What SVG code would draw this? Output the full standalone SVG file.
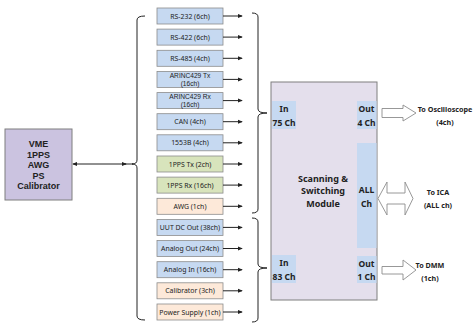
<svg xmlns="http://www.w3.org/2000/svg" width="474" height="326" viewBox="0 0 474 326">
<style>
.box{stroke:#8c8c8c;stroke-width:0.8}
.blue{fill:#c6d9f1}.green{fill:#d8e4bc}.peach{fill:#fde9d9}
.t{font-family:"Noto Sans","DejaVu Sans",sans-serif;font-size:6.9px;fill:#222;text-anchor:middle;dominant-baseline:central}
.t2{font-family:"Liberation Sans",Arial,sans-serif;font-size:6.6px;fill:#222;text-anchor:middle;dominant-baseline:central}
.b{font-family:"Noto Sans","DejaVu Sans",sans-serif;font-weight:bold;fill:#222;text-anchor:middle;dominant-baseline:central}
.lb{font-family:"Liberation Sans",Arial,sans-serif;font-weight:bold;font-size:9px;fill:#222;text-anchor:middle;dominant-baseline:central}
.ln{stroke:#222;stroke-width:1;fill:none}
.blk{fill:#fff;stroke:#8c8c8c;stroke-width:0.9}
.inner{fill:#c6d9f1}
</style>
<defs>
<marker id="ah" viewBox="0 0 6 6" refX="5" refY="3" markerWidth="5" markerHeight="5" orient="auto-start-reverse" markerUnits="userSpaceOnUse">
<path d="M0,0.5 L6,3 L0,5.5 z" fill="#222"/>
</marker>
</defs>
<rect width="474" height="326" fill="#fff"/>

<g id="source">
<rect x="5" y="129" width="67" height="71" fill="#cbc3e0" stroke="#7f7f7f" stroke-width="1"/>
<text class="lb" x="38.5" y="144">VME</text>
<text class="lb" x="38.5" y="154.5">1PPS</text>
<text class="lb" x="38.5" y="165">AWG</text>
<text class="lb" x="38.5" y="175.5">PS</text>
<text class="lb" x="38.5" y="186">Calibrator</text>
</g>

<g id="n-rs232"><rect class="box blue" x="157" y="8" width="66" height="16"/><text class="t" x="190" y="16">RS-232 (6ch)</text></g>
<g id="n-rs422"><rect class="box blue" x="157" y="29.1" width="66" height="16"/><text class="t" x="190" y="37.1">RS-422 (6ch)</text></g>
<g id="n-rs485"><rect class="box blue" x="157" y="50.3" width="66" height="16"/><text class="t" x="190" y="58.3">RS-485 (4ch)</text></g>
<g id="n-arinctx"><rect class="box blue" x="157" y="71.4" width="66" height="16"/><text class="t2" x="190" y="75.6">ARINC429 Tx</text><text class="t2" x="190" y="83.3">(16ch)</text></g>
<g id="n-arincrx"><rect class="box blue" x="157" y="92.6" width="66" height="16"/><text class="t2" x="190" y="96.8">ARINC429 Rx</text><text class="t2" x="190" y="104.5">(16ch)</text></g>
<g id="n-can"><rect class="box blue" x="157" y="113.7" width="66" height="16"/><text class="t" x="190" y="121.7">CAN (4ch)</text></g>
<g id="n-1553b"><rect class="box blue" x="157" y="134.8" width="66" height="16"/><text class="t" x="190" y="142.8">1553B (4ch)</text></g>
<g id="n-1ppstx"><rect class="box green" x="157" y="156" width="66" height="16"/><text class="t" x="190" y="164">1PPS Tx (2ch)</text></g>
<g id="n-1ppsrx"><rect class="box green" x="157" y="177.1" width="66" height="16"/><text class="t" x="190" y="185.1">1PPS Rx (16ch)</text></g>
<g id="n-awg"><rect class="box peach" x="157" y="198.3" width="66" height="16"/><text class="t" x="190" y="206.3">AWG (1ch)</text></g>
<g id="n-uut"><rect class="box blue" x="157" y="219.4" width="66" height="16"/><text class="t" x="190" y="227.4">UUT DC Out (38ch)</text></g>
<g id="n-aout"><rect class="box blue" x="157" y="240.5" width="66" height="16"/><text class="t" x="190" y="248.5">Analog Out (24ch)</text></g>
<g id="n-ain"><rect class="box blue" x="157" y="261.7" width="66" height="16"/><text class="t" x="190" y="269.7">Analog In (16ch)</text></g>
<g id="n-cal"><rect class="box peach" x="157" y="282.8" width="66" height="16"/><text class="t" x="190" y="290.8">Calibrator (3ch)</text></g>
<g id="n-ps"><rect class="box peach" x="157" y="304" width="66" height="16"/><text class="t" x="190" y="312">Power Supply (1ch)</text></g>

<g id="module">
<rect x="271" y="82" width="106" height="218" fill="#e4dfec" stroke="#7f7f7f" stroke-width="1"/>
<rect class="inner" x="272" y="101" width="24" height="28"/>
<text class="b" font-size="8.5" x="284" y="108.5">In</text>
<text class="b" font-size="8.5" x="284" y="122">75 Ch</text>
<rect class="inner" x="357" y="101" width="19.5" height="28"/>
<text class="b" font-size="8.5" x="366.5" y="108.5">Out</text>
<text class="b" font-size="8.5" x="366.5" y="122">4 Ch</text>
<rect class="inner" x="357" y="143" width="19.5" height="105"/>
<text class="b" font-size="8.5" x="366.5" y="189.5">ALL</text>
<text class="b" font-size="8.5" x="366.5" y="203">Ch</text>
<rect class="inner" x="272" y="255" width="24" height="28"/>
<text class="b" font-size="8.5" x="284" y="262.5">In</text>
<text class="b" font-size="8.5" x="284" y="276">83 Ch</text>
<rect class="inner" x="357" y="256" width="19.5" height="27"/>
<text class="b" font-size="8.5" x="366.5" y="263">Out</text>
<text class="b" font-size="8.5" x="366.5" y="276.5">1 Ch</text>
<text class="b" font-size="9" x="323" y="178">Scanning &amp;</text>
<text class="b" font-size="9" x="323" y="190.5">Switching</text>
<text class="b" font-size="9" x="323" y="203">Module</text>
</g>

<g id="outputs">
<polygon class="blk" points="382,108.5 403,108.5 403,105 416,113 403,121 403,117.5 382,117.5"/>
<text class="b" font-size="7.2" x="445" y="109">To Oscilloscope</text>
<text class="b" font-size="7.2" x="445" y="122">(4ch)</text>
<polygon class="blk" points="378,198.5 387,182 387,193 405,193 405,182 413,198.5 405,215 405,204 387,204 387,215"/>
<text class="b" font-size="7.2" x="438" y="192">To ICA</text>
<text class="b" font-size="7.2" x="438" y="204.5">(ALL ch)</text>
<polygon class="blk" points="382,266.5 403,266.5 403,260 416,270 403,280 403,274 382,274"/>
<text class="b" font-size="7.2" x="430" y="265">To DMM</text>
<text class="b" font-size="7.2" x="430" y="277.5">(1ch)</text>
</g>

<g id="connectors">
<line class="ln" x1="73" y1="164" x2="126" y2="164" marker-start="url(#ah)" marker-end="url(#ah)"/>
<line class="ln" x1="125" y1="164" x2="133" y2="164"/>
<path class="ln" d="M145,16 Q137,16 137,20 V160 Q137,164 132,164 Q137,164 137,168 V316 Q137,320 145,320"/>
<path class="ln" d="M252,13 Q258,13 258,17 V109 Q258,113 267,113 Q258,113 258,117 V209 Q258,213 252,213"/>
<path class="ln" d="M252,218 Q258,218 258,222 V264 Q258,268 267,268 Q258,268 258,272 V318 Q258,322 252,322"/>
<line class="ln" x1="223" y1="16" x2="242" y2="16" marker-end="url(#ah)"/>
<line class="ln" x1="223" y1="37.1" x2="242" y2="37.1" marker-end="url(#ah)"/>
<line class="ln" x1="223" y1="58.3" x2="242" y2="58.3" marker-end="url(#ah)"/>
<line class="ln" x1="223" y1="79.4" x2="242" y2="79.4" marker-end="url(#ah)"/>
<line class="ln" x1="223" y1="100.6" x2="242" y2="100.6" marker-end="url(#ah)"/>
<line class="ln" x1="223" y1="121.7" x2="242" y2="121.7" marker-end="url(#ah)"/>
<line class="ln" x1="223" y1="142.8" x2="242" y2="142.8" marker-end="url(#ah)"/>
<line class="ln" x1="223" y1="164" x2="242" y2="164" marker-end="url(#ah)"/>
<line class="ln" x1="223" y1="185.1" x2="242" y2="185.1" marker-end="url(#ah)"/>
<line class="ln" x1="223" y1="206.3" x2="242" y2="206.3" marker-end="url(#ah)"/>
<line class="ln" x1="223" y1="227.4" x2="242" y2="227.4" marker-end="url(#ah)"/>
<line class="ln" x1="223" y1="248.5" x2="242" y2="248.5" marker-end="url(#ah)"/>
<line class="ln" x1="223" y1="269.7" x2="242" y2="269.7" marker-end="url(#ah)"/>
<line class="ln" x1="223" y1="290.8" x2="242" y2="290.8" marker-end="url(#ah)"/>
<line class="ln" x1="223" y1="312" x2="242" y2="312" marker-end="url(#ah)"/>
</g>
</svg>
